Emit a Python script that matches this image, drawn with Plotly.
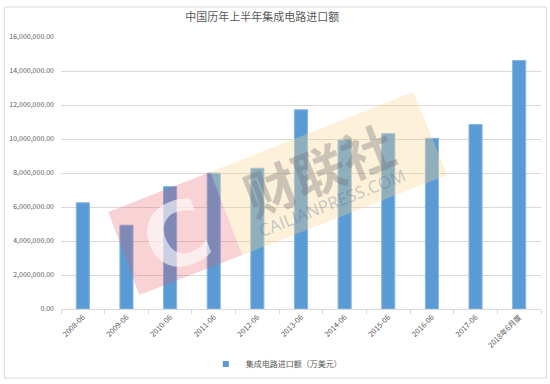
import plotly.graph_objects as go

categories = ["2008-06", "2009-06", "2010-06", "2011-06", "2012-06", "2013-06",
              "2014-06", "2015-06", "2016-06", "2017-06", "2018年6月度"]
values = [6250000, 4930000, 7200000, 7990000, 8280000, 11720000,
          9940000, 10310000, 10040000, 10850000, 14620000]
series_name = "集成电路进口额（万美元）"
title_text = "中国历年上半年集成电路进口额"

W, H = 550, 384
L, R, T, B = 60.7, 540.7, 37.0, 309.0

def px(x):
    return (x - L) / (R - L)

def py(y):
    return (B - y) / (B - T)

def path(pts):
    return "M " + " L ".join(f"{px(x):.4f},{py(y):.4f}" for x, y in pts) + " Z"

fig = go.Figure()
fig.add_trace(go.Bar(
    x=categories, y=values, name=series_name, showlegend=False,
    marker=dict(color="#5b9bd5", line=dict(color="#86b6e3", width=1)),
    width=0.3,
))
fig.add_trace(go.Scatter(
    x=[None], y=[None], mode="markers", name=series_name, showlegend=True,
    marker=dict(symbol="square", size=6, color="#5b9bd5"),
))

shapes = [
    dict(type="rect", xref="paper", yref="paper", x0=px(4), x1=px(546), y0=py(378), y1=py(7),
         line=dict(color="#d9d9d9", width=1), fillcolor="rgba(0,0,0,0)", layer="below"),
    dict(type="path", xref="paper", yref="paper",
         path=path([(108, 212), (210, 172), (242, 255), (139, 295)]),
         fillcolor="rgba(228,90,100,0.27)", line=dict(width=0), layer="above"),
    dict(type="path", xref="paper", yref="paper",
         path=path([(210, 172), (413, 92), (447, 175), (242, 255)]),
         fillcolor="rgba(248,215,140,0.33)", line=dict(width=0), layer="above"),
]

annotations = [
    dict(text="<b>C</b>", x=px(176), y=py(236), xref="paper", yref="paper", showarrow=False,
         font=dict(size=88, color="rgba(255,255,255,0.6)", family="DejaVu Sans"),
         textangle=-21.5, xanchor="center", yanchor="middle"),
    dict(text="<b>财联社</b>", x=px(318), y=py(168), xref="paper", yref="paper", showarrow=False,
         font=dict(size=52, color="rgba(110,110,120,0.36)", family="Noto Sans CJK SC"),
         textangle=-21.5, xanchor="center", yanchor="middle"),
    dict(text="CAILIANPRESS.COM", x=px(332), y=py(202), xref="paper", yref="paper", showarrow=False,
         font=dict(size=17, color="rgba(90,110,150,0.35)", family="Open Sans"),
         textangle=-21.5, xanchor="center", yanchor="middle"),
]

fig.update_layout(
    width=W, height=H,
    margin=dict(l=L, r=W - R, t=T, b=H - B, pad=0, autoexpand=False),
    paper_bgcolor="white", plot_bgcolor="white",
    title=dict(text=title_text, x=px(262), xref="paper", xanchor="center",
               y=1 - 17 / H, yanchor="middle",
               font=dict(size=11, color="#595959", family="Noto Sans CJK SC")),
    font=dict(family="Noto Sans CJK SC", color="#595959"),
    bargap=0.7,
    showlegend=True,
    legend=dict(orientation="h", x=px(276), xanchor="center", y=py(364), yanchor="middle",
                font=dict(size=8, color="#595959"), bgcolor="rgba(0,0,0,0)",
                itemwidth=30),
    xaxis=dict(type="category", tickangle=-45, tickfont=dict(size=7.5, color="#595959"),
               showline=True, linecolor="#d9d9d9", linewidth=1,
               ticks="outside", tickson="boundaries", ticklen=4, tickcolor="#d9d9d9",
               showgrid=False, automargin=False),
    yaxis=dict(range=[0, 16000000], dtick=2000000, tickformat=",.2f",
               tickfont=dict(size=7, color="#595959"),
               gridcolor="#d9d9d9", gridwidth=1, zeroline=False, showline=False,
               ticks="", ticklabelstandoff=6, automargin=False),
    shapes=shapes,
    annotations=annotations,
)

fig.write_html("out.html",
               config={"displayModeBar": False},
               post_script="document.body.style.margin='0px';document.body.style.overflow='hidden';")
